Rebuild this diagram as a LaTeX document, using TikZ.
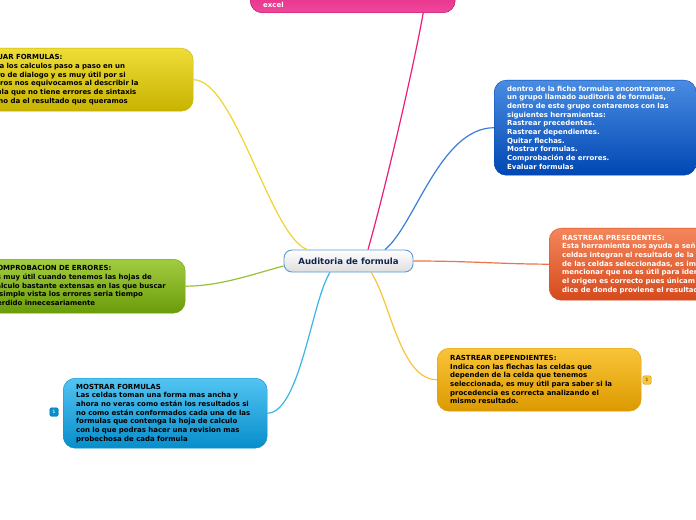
\documentclass[tikz,border=0pt]{standalone}
\usepackage{fontspec}
\setmainfont{DejaVu Sans}
\usetikzlibrary{positioning}

\definecolor{pinkA}{HTML}{F0479B}
\definecolor{pinkB}{HTML}{D30E6E}
\definecolor{pinkL}{HTML}{EE1C76}
\definecolor{yelA}{HTML}{EEDD38}
\definecolor{yelB}{HTML}{C8B300}
\definecolor{bluA}{HTML}{4A8CE2}
\definecolor{bluB}{HTML}{0047B3}
\definecolor{redA}{HTML}{F4865C}
\definecolor{redB}{HTML}{D64A1C}
\definecolor{grnA}{HTML}{A2CC40}
\definecolor{grnB}{HTML}{6A9C0A}
\definecolor{orgA}{HTML}{F9C438}
\definecolor{orgB}{HTML}{DC9A00}
\definecolor{skyA}{HTML}{52C4F2}
\definecolor{skyB}{HTML}{078ECB}
\definecolor{hubline}{HTML}{5B9BD5}
\definecolor{hubtext}{HTML}{14264E}

\begin{document}
\begin{tikzpicture}[x=1bp,y=-1bp,
        mapbox/.style={rounded corners=12bp, align=left, inner xsep=13bp, inner ysep=5bp,
                font=\fontsize{7}{8.7}\selectfont\bfseries, text width=#1},
        hub/.style={draw=hubline, line width=0.9bp, rounded corners=8bp, top color=white,
                bottom color=black!13, minimum width=129bp, minimum height=22bp,
                font=\fontsize{8.6}{9}\selectfont\bfseries, text=hubtext},
        link/.style={line width=1.2bp},
        badge/.style={rounded corners=1.5bp, minimum size=8.5bp, inner sep=0pt,
                font=\fontsize{4.5}{4.5}\selectfont\bfseries}]
        \clip (0,0) rectangle (696,520);
        \fill[white] (0,0) rectangle (696,520);

        \node[hub] (aud) at (348.5,261) {Auditoria de formula};

        \node[mapbox=179bp, anchor=south west, text height=40bp, top color=pinkB, bottom color=pinkA,
                draw=pinkB!80!black, text=white] (excel) at (250,13) {excel};
        \node[mapbox=202bp, anchor=north west, minimum height=63bp, top color=yelA, bottom color=yelB,
                draw=yelB] (evalf) at (-35,48)
                {EVALUAR FORMULAS:\\Evalua los calculos paso a paso en un\\cuadro de dialogo y es muy útil por si\\nosotros nos equivocamos al describir la\\formula que no tiene errores de sintaxis\\pero no da el resultado que queramos};
        \node[mapbox=176bp, anchor=north west, minimum height=95bp, top color=bluA, bottom color=bluB,
                draw=bluB, text=white] (lista) at (494,80)
                {dentro de la ficha formulas encontraremos\\un grupo llamado auditoria de formulas,\\dentro de este grupo contaremos con las\\siguientes herramientas:\\Rastrear precedentes.\\Rastrear dependientes.\\Quitar flechas.\\Mostrar formulas.\\Comprobación de errores.\\Evaluar formulas};
        \node[mapbox=190bp, anchor=north west, minimum height=72bp, top color=redA, bottom color=redB,
                draw=redB, text=white] (prec) at (549,228)
                {RASTREAR PRESEDENTES:\\Esta herramienta nos ayuda a señ\\celdas integran el resultado de la\\de las celdas seleccionadas, es im\\mencionar que no es útil para iden\\el origen es correcto pues únicam\\dice de donde proviene el resultad};
        \node[mapbox=180bp, anchor=north west, minimum height=54bp, top color=grnA, bottom color=grnB,
                draw=grnB] (compr) at (-21,259)
                {COMPROBACION DE ERRORES:\\Es muy útil cuando tenemos las hojas de\\calculo bastante extensas en las que buscar\\a simple vista los errores seria tiempo\\perdido innecesariamente};
        \node[mapbox=178bp, anchor=north west, minimum height=63bp, top color=orgA, bottom color=orgB,
                draw=orgB] (dep) at (437,348)
                {RASTREAR DEPENDIENTES:\\Indica con las flechas las celdas que\\dependen de la celda que tenemos\\seleccionada, es muy útil para saber si la\\procedencia es correcta analizando el\\mismo resultado.};
        \node[mapbox=178bp, anchor=north west, minimum height=70bp, top color=skyA, bottom color=skyB,
                draw=skyB] (most) at (63,378)
                {MOSTRAR FORMULAS\\Las celdas toman una forma mas ancha y\\ahora no veras como están los resultados si\\no como están conformados cada una de las\\formulas que contenga la hoja de calculo\\con lo que podras hacer una revision mas\\probechosa de cada formula};

        \node[badge, fill=orgA, draw=orgB, text=orgB!60!black] (depb) at (647,380) {1};
        \node[badge, fill=skyB, draw=skyB!80!black, text=skyA!40!white] (mostb) at (54,412) {1};

        \draw[link, yelA!90!orange] ([xshift=-41.5bp]aud.north) .. controls (270,235) and (235,80) .. (evalf.east);
        \draw[link, pinkL] ([xshift=19.5bp]aud.north) .. controls (385,190) and (413,70) .. ([xshift=70.5bp]excel.south);
        \draw[link, bluA!80!bluB] ([xshift=36.5bp]aud.north) .. controls (415,225) and (440,128) .. (lista.west);
        \draw[link, redA!70!redB] (aud.east) .. controls (470,261) and (500,264) .. (prec.west);
        \draw[link, grnA!80!grnB] ([yshift=-5bp]aud.west) .. controls (250,275) and (220,286) .. (compr.east);
        \draw[link, orgA] ([xshift=22.5bp]aud.south) .. controls (390,300) and (400,380) .. (dep.west);
        \draw[link, skyA!70!skyB] ([xshift=-18.5bp]aud.south) .. controls (312,300) and (300,413) .. (most.east);
\end{tikzpicture}
\end{document}
